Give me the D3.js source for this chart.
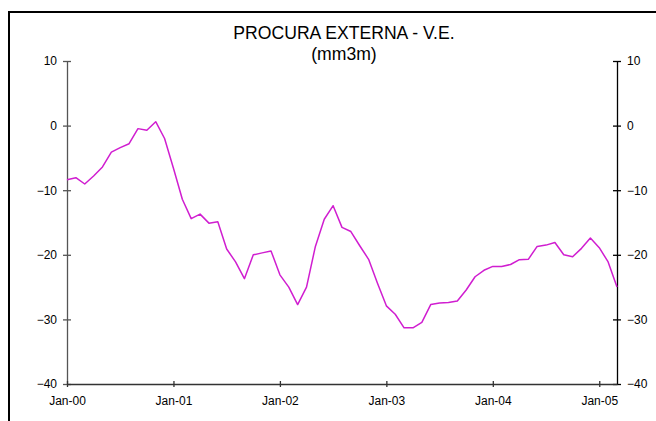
<!DOCTYPE html>
<html>
<head>
<meta charset="utf-8">
<script src="https://cdn.jsdelivr.net/npm/d3@7"></script>
<style>
  html, body { margin: 0; padding: 0; background: #fff; }
  svg { display: block; font-family: "Liberation Sans", Arial, sans-serif; }
</style>
</head>
<body>
<div id="chart"></div>
<script>
'use strict';

// monthly values, Jan-00 .. Mar-05
var values = [
  -8.37, -8.06, -9.04, -7.8, -6.4, -4.1, -3.4, -2.8, -0.47, -0.73, 0.6, -2.0,
  -6.6, -11.4, -14.4, -13.7, -15.1, -14.9, -19.1, -21.1, -23.7, -20.0, -19.7, -19.4,
  -23.1, -25.0, -27.7, -25.0, -18.7, -14.5, -12.4, -15.75, -16.4, -18.6, -20.7, -24.4,
  -27.9, -29.2, -31.3, -31.3, -30.45, -27.7, -27.45, -27.4, -27.15, -25.45, -23.4, -22.4,
  -21.8, -21.8, -21.5, -20.75, -20.7, -18.7, -18.5, -18.1, -20.0, -20.3, -19.0, -17.4,
  -18.9, -21.1, -25.0
];
var xTickIndex = [0, 12, 24, 36, 48, 60];
var xTickLabels = ['Jan-00', 'Jan-01', 'Jan-02', 'Jan-03', 'Jan-04', 'Jan-05'];
var yTicks = [-40, -30, -20, -10, 0, 10];
var titleLines = ['PROCURA EXTERNA - V.E.', '(mm3m)'];

var width = 656, height = 421;
var plot = { left: 67, right: 617, top: 61, bottom: 384 };

var svg = d3.select('#chart').append('svg')
  .attr('width', width)
  .attr('height', height);

// chart frame (only top and left edges fall inside the picture)
svg.append('path')
  .attr('d', 'M9,' + (height + 5) + 'V12H' + (width + 5))
  .attr('fill', 'none')
  .attr('stroke', '#000')
  .attr('stroke-width', 2);

var x = d3.scaleLinear().domain([0, values.length - 1]).range([plot.left, plot.right]);
var y = d3.scaleLinear().domain([-40, 10]).range([plot.bottom, plot.top]);

svg.selectAll('.title')
  .data(titleLines)
  .enter()
  .append('text')
  .attr('class', 'title')
  .attr('x', 344)
  .attr('y', function (d, i) { return 39 + i * 21; })
  .attr('text-anchor', 'middle')
  .style('font-size', '17.6px')
  .text(function (d) { return d; });

function styleAxis(g, color) {
  g.select('.domain').attr('stroke', color).attr('stroke-width', 1.3);
  g.selectAll('.tick line').attr('stroke', color).attr('stroke-width', 1.3);
  g.selectAll('.tick text')
    .style('font-size', '12px')
    .style('font-family', '"Liberation Sans", Arial, sans-serif')
    .attr('fill', '#000');
}

// left axis, ticks crossing the line
var left = svg.append('g')
  .attr('transform', 'translate(' + plot.left + ',0)')
  .call(d3.axisLeft(y).tickValues(yTicks).tickSize(4).tickSizeOuter(0).tickPadding(6));
left.selectAll('.tick line').attr('x2', 4).attr('x1', -4);
styleAxis(left, '#555');

// right axis
var right = svg.append('g')
  .attr('transform', 'translate(' + plot.right + ',0)')
  .call(d3.axisRight(y).tickValues(yTicks).tickSize(4).tickSizeOuter(0).tickPadding(6));
right.selectAll('.tick line').attr('x1', -4).attr('x2', 4);
styleAxis(right, '#000');

// bottom axis
var bottom = svg.append('g')
  .attr('transform', 'translate(0,' + plot.bottom + ')')
  .call(d3.axisBottom(x).tickValues(xTickIndex).tickSize(3).tickSizeOuter(0).tickPadding(9)
    .tickFormat(function (d, i) { return xTickLabels[i]; }));
bottom.selectAll('.tick line').attr('y1', -3).attr('y2', 3);
styleAxis(bottom, '#333');

var line = d3.line()
  .x(function (d, i) { return x(i); })
  .y(function (d) { return y(d); });

svg.append('path')
  .datum(values)
  .attr('d', line)
  .attr('fill', 'none')
  .attr('stroke', '#d01ed0')
  .attr('stroke-width', 1.5)
  .attr('stroke-linejoin', 'round');
</script>
</body>
</html>
